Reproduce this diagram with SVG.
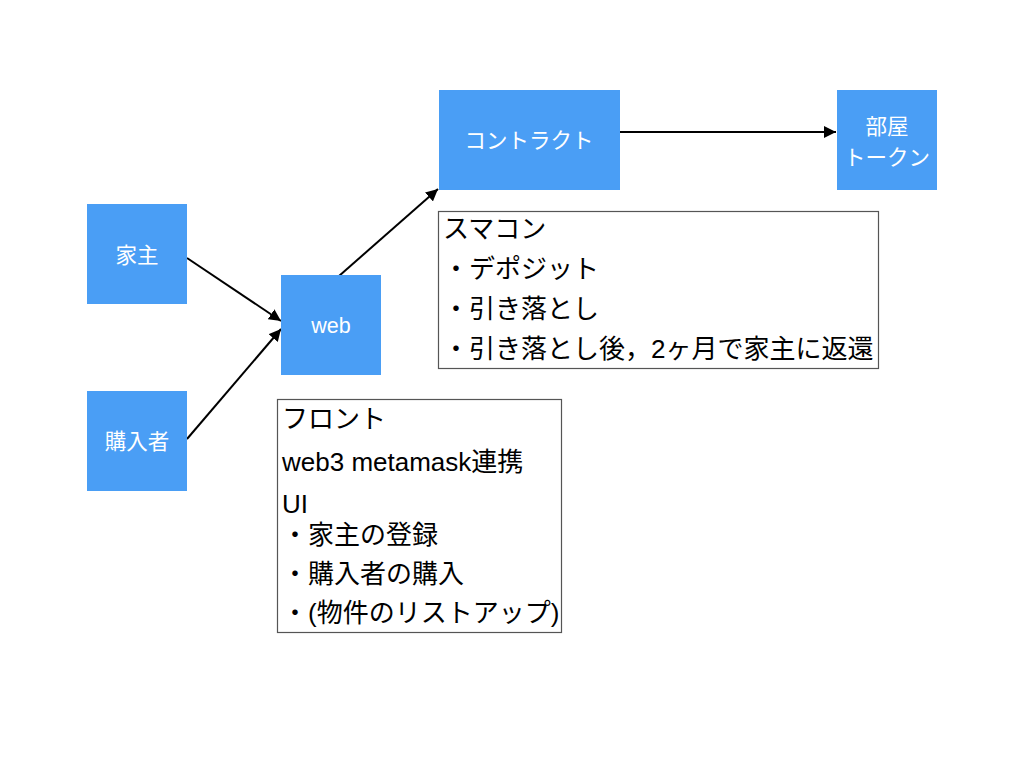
<svg xmlns="http://www.w3.org/2000/svg" width="1024" height="768" viewBox="0 0 1024 768">
<defs>
<style>
.node{fill:#4A9EF5}
.lbl{fill:#fff;font-family:"Liberation Sans","Noto Sans CJK JP",sans-serif;font-size:21.5px;text-anchor:middle}
.note{fill:#fff;stroke:#555;stroke-width:1.2}
.nt{fill:#000;font-family:"Liberation Sans","Noto Sans CJK JP",sans-serif;font-size:26px}
.conn{stroke:#000;stroke-width:2;fill:none;marker-end:url(#ah)}
</style>
<marker id="ah" viewBox="0 0 10 10" refX="10" refY="5" markerWidth="6" markerHeight="6" markerUnits="strokeWidth" orient="auto">
<path d="M0,0 L10,5 L0,10 z" fill="#000"/>
</marker>
</defs>
<rect width="1024" height="768" fill="#fff"/>
<g id="connectors">
<line class="conn" x1="187" y1="258" x2="281" y2="321"/>
<line class="conn" x1="187" y1="439" x2="281" y2="329"/>
<line class="conn" x1="339" y1="276" x2="438" y2="189"/>
<line class="conn" x1="620" y1="132" x2="836" y2="132"/>
</g>
<g id="yanushi">
<rect class="node" x="87" y="204" width="100" height="100"/>
<text class="lbl" x="137" y="263">家主</text>
</g>
<g id="konyusha">
<rect class="node" x="87" y="391" width="100" height="100"/>
<text class="lbl" x="137" y="449">購入者</text>
</g>
<g id="web">
<rect class="node" x="281" y="275" width="100" height="100"/>
<text class="lbl" x="331" y="333">web</text>
</g>
<g id="contract">
<rect class="node" x="439" y="90" width="181" height="100"/>
<text class="lbl" x="529" y="148">コントラクト</text>
</g>
<g id="heya">
<rect class="node" x="837" y="90" width="100" height="100"/>
<text class="lbl" x="887" y="134">部屋</text>
<text class="lbl" x="887" y="165">トークン</text>
</g>
<g id="sumakon-note">
<rect class="note" x="438.5" y="211.5" width="440" height="157"/>
<text class="nt" x="443" y="238">スマコン</text>
<text class="nt" x="443" y="278">・デポジット</text>
<text class="nt" x="443" y="318">・引き落とし</text>
<text class="nt" x="443" y="358">・引き落とし後，2ヶ月で家主に返還</text>
</g>
<g id="front-note">
<rect class="note" x="277.5" y="399.5" width="284" height="233"/>
<text class="nt" x="282" y="428">フロント</text>
<text class="nt" x="282" y="471">web3 metamask連携</text>
<text class="nt" x="282" y="513">UI</text>
<text class="nt" x="282" y="544">・家主の登録</text>
<text class="nt" x="282" y="583">・購入者の購入</text>
<text class="nt" x="282" y="622">・(物件のリストアップ)</text>
</g>
</svg>
